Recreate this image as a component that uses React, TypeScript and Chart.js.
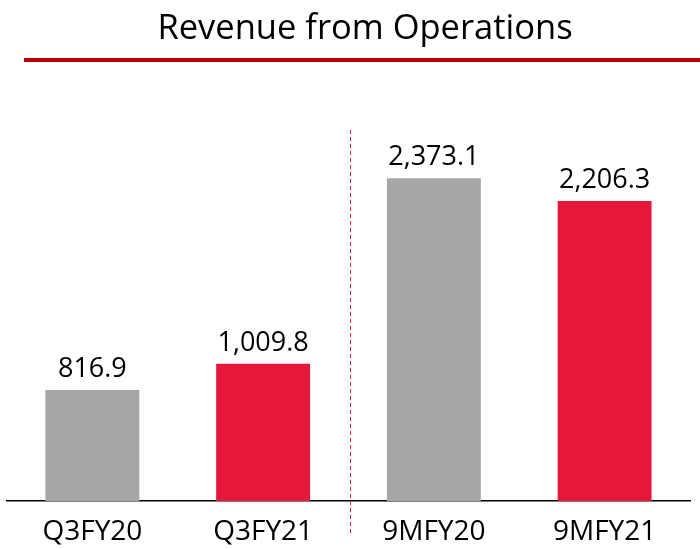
import React, { useEffect, useRef } from "react";
import { Chart, registerables } from "chart.js";

Chart.register(...registerables);

const categories = ["Q3FY20", "Q3FY21", "9MFY20", "9MFY21"];
const revenue = [816.9, 1009.8, 2373.1, 2206.3];
const valueLabels = ["816.9", "1,009.8", "2,373.1", "2,206.3"];
const barColors = ["#A6A6A6", "#E5173A", "#A6A6A6", "#E5173A"];
const titleText = "Revenue from Operations";

const FONT = "'Open Sans', 'DejaVu Sans', sans-serif";

const overlayPlugin = {
  id: "overlay",
  afterDraw(chart: any) {
    const ctx = chart.ctx as CanvasRenderingContext2D;
    const xs = chart.scales.x;
    ctx.save();
    // Title
    ctx.fillStyle = "#000000";
    ctx.font = `34.5px ${FONT}`;
    ctx.textAlign = "center";
    ctx.textBaseline = "alphabetic";
    ctx.fillText(titleText, 365, 39);
    // Red rule under title
    ctx.strokeStyle = "#C00000";
    ctx.lineWidth = 4;
    ctx.beginPath();
    ctx.moveTo(24, 60);
    ctx.lineTo(700, 60);
    ctx.stroke();
    // Dashed separator
    const sepX = (xs.getPixelForValue(1) + xs.getPixelForValue(2)) / 2 + 2;
    ctx.strokeStyle = "#E5173A";
    ctx.lineWidth = 1;
    ctx.setLineDash([4, 3]);
    ctx.beginPath();
    ctx.moveTo(sepX, 130);
    ctx.lineTo(sepX, 533);
    ctx.stroke();
    ctx.setLineDash([]);
    // Value labels
    const meta = chart.getDatasetMeta(0);
    ctx.font = `27px ${FONT}`;
    ctx.fillStyle = "#000000";
    meta.data.forEach((bar: any, i: number) => {
      ctx.fillText(valueLabels[i], bar.x, bar.y - 13);
    });
    ctx.restore();
  },
};

export default function App() {
  const ref = useRef<HTMLCanvasElement | null>(null);
  useEffect(() => {
    document.body.style.margin = "0";
    const chart = new Chart(ref.current as HTMLCanvasElement, {
      type: "bar",
      data: {
        labels: categories,
        datasets: [
          {
            data: revenue,
            backgroundColor: barColors,
            borderWidth: 0,
            barPercentage: 0.55,
            categoryPercentage: 1,
          },
        ],
      },
      options: {
        animation: false,
        responsive: false,
        layout: { padding: { top: 93, left: 7, right: 10, bottom: 0 } },
        plugins: {
          legend: { display: false },
          tooltip: { enabled: false },
          title: { display: false },
        },
        scales: {
          x: {
            grid: { display: false, drawTicks: false },
            border: { display: true, color: "#000000", width: 1.5 },
            ticks: {
              color: "#000000",
              font: { family: FONT, size: 28 },
              padding: 14,
            },
            afterFit: (scale: any) => {
              scale.height = 48;
            },
          },
          y: {
            display: false,
            min: 0,
            max: 3000,
          },
        },
      },
      plugins: [overlayPlugin],
    });
    return () => chart.destroy();
  }, []);
  return (
    <div style={{ position: "relative", width: 700, height: 549 }}>
      <canvas ref={ref} width={700} height={549} style={{ display: "block" }} />
    </div>
  );
}
